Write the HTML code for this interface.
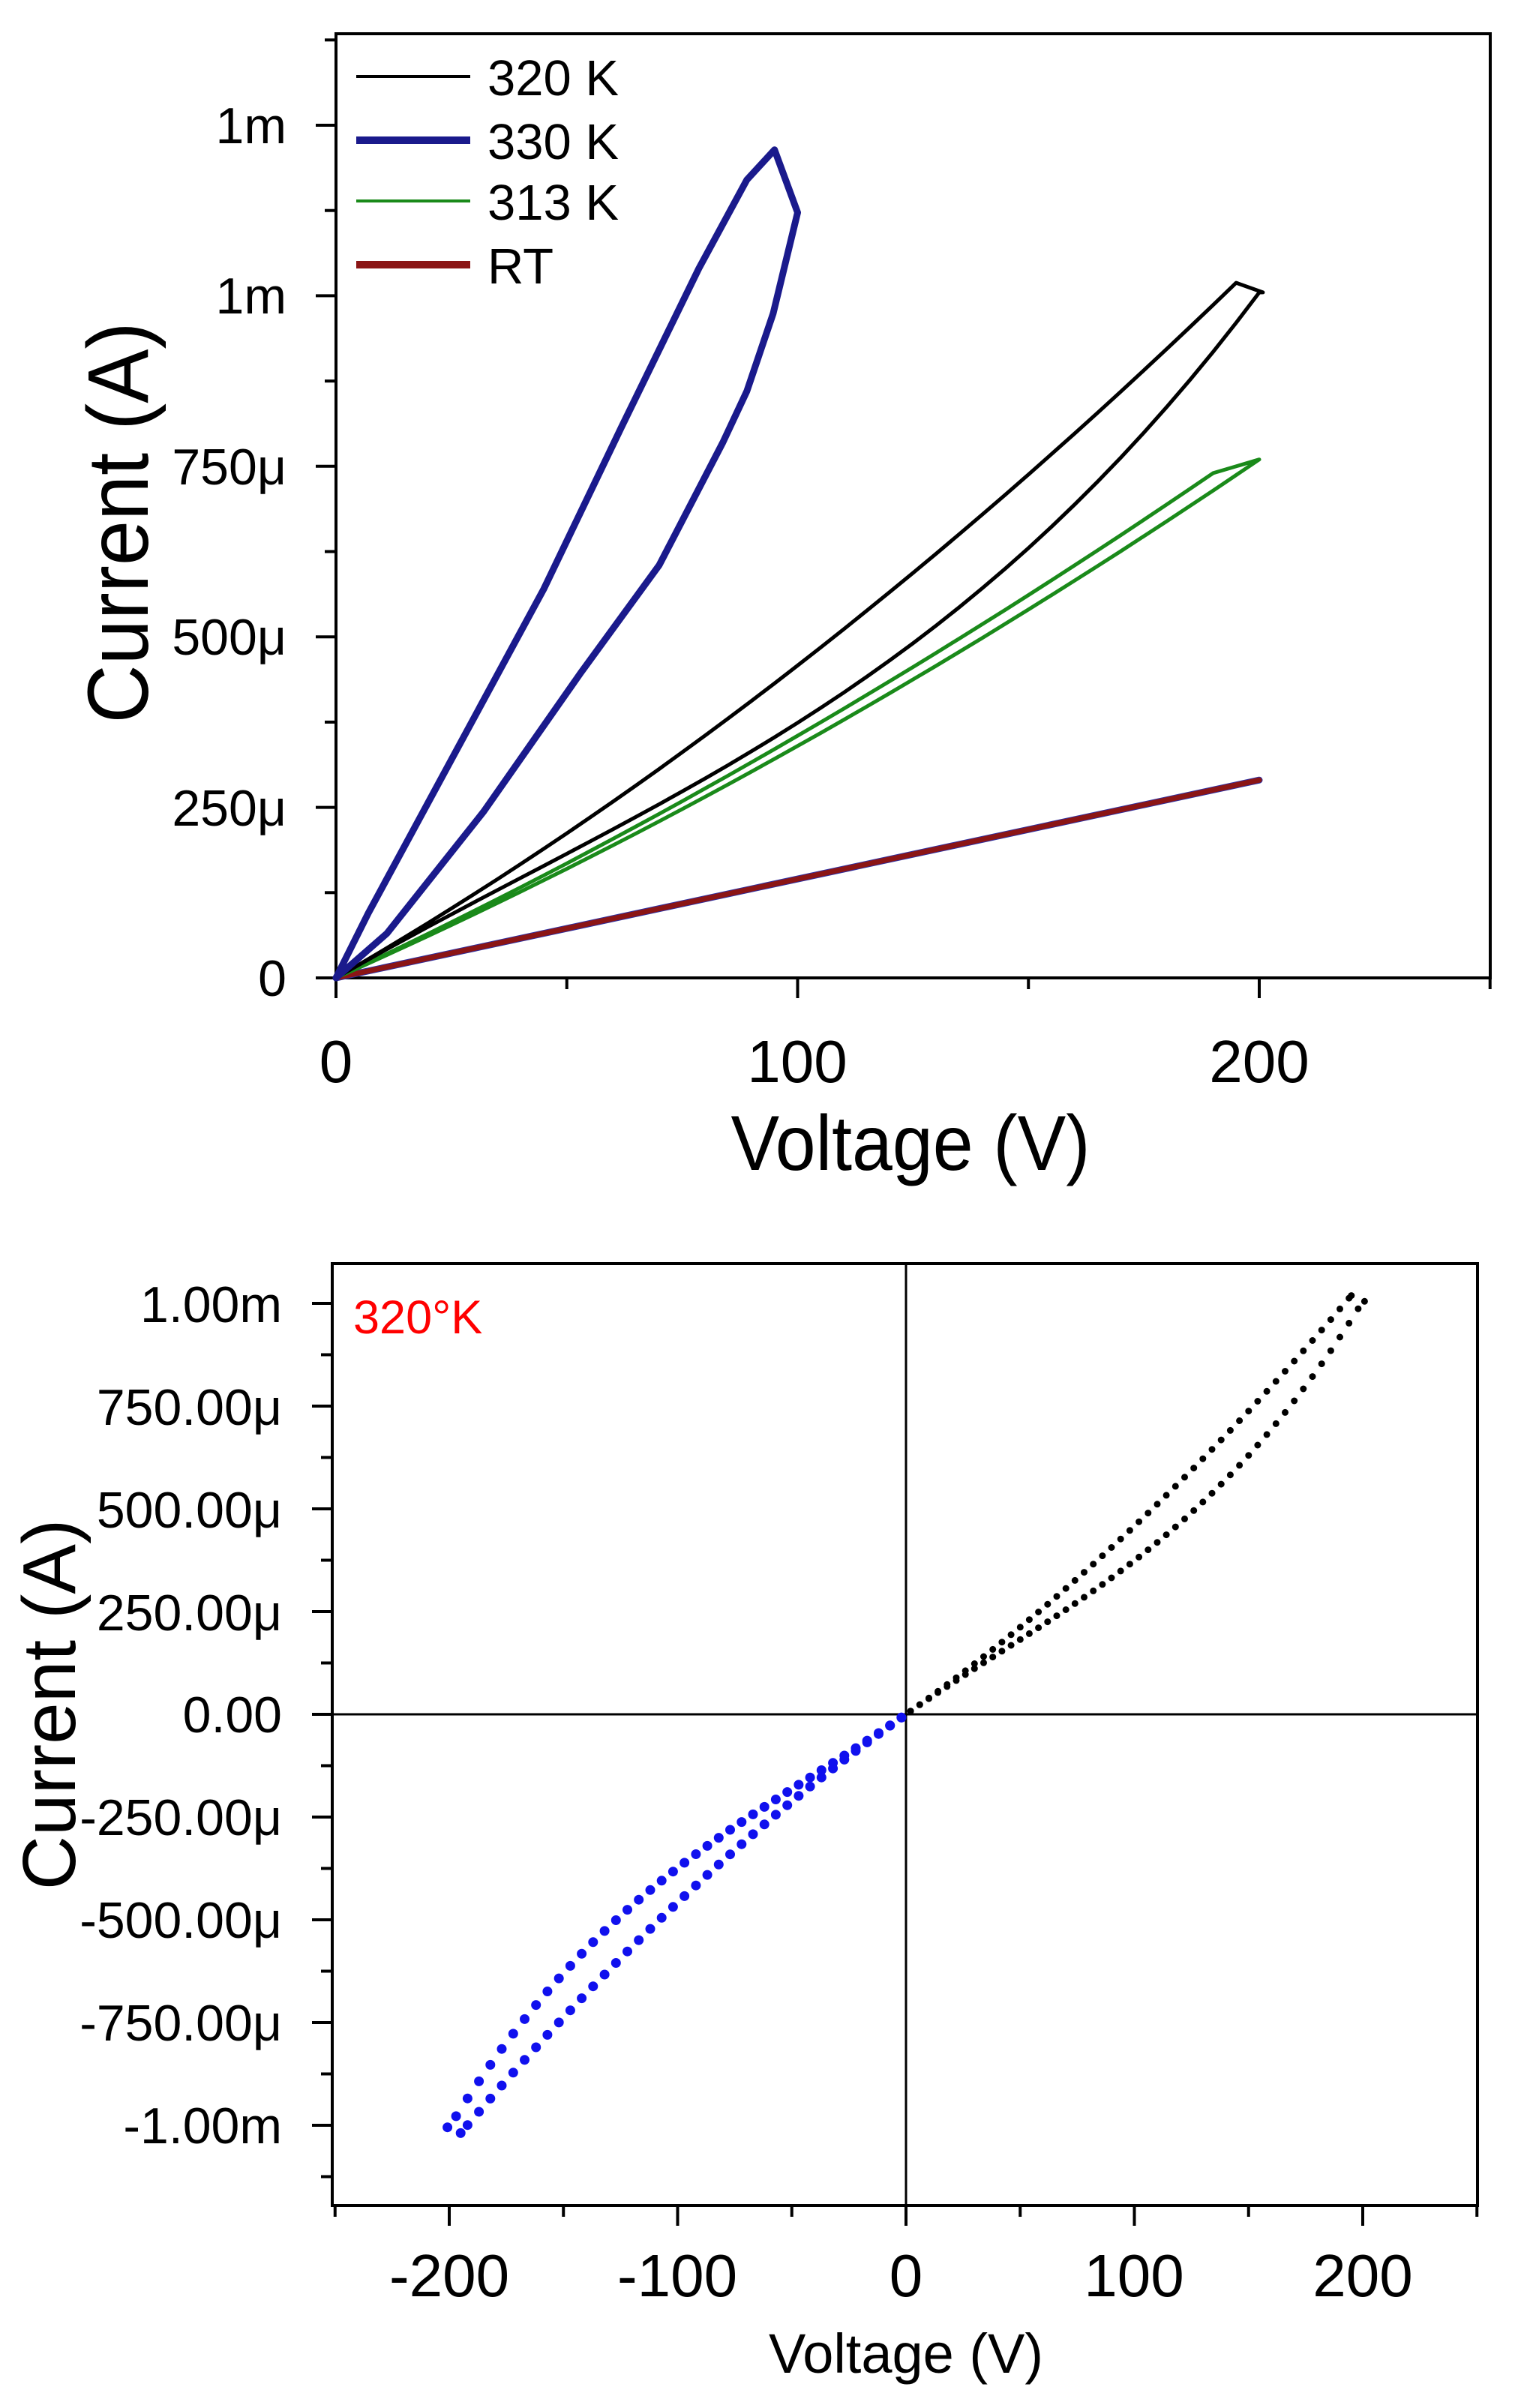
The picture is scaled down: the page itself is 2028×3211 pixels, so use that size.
<!DOCTYPE html>
<html><head><meta charset="utf-8"><style>
html,body{margin:0;padding:0;background:#fff;}
svg{display:block;}
text{font-family:"Liberation Sans",Arial,sans-serif;fill:#000;}
</style></head><body>
<svg id="s" width="2028" height="3211" viewBox="0 0 2028 3211" xmlns="http://www.w3.org/2000/svg">
<rect width="2028" height="3211" fill="#fff"/>
<g id="g"></g>
<g font-size="68" text-anchor="end">
<text x="382" y="1328">0</text>
<text x="382" y="1101">250μ</text>
<text x="382" y="873">500μ</text>
<text x="382" y="646">750μ</text>
<text x="382" y="418">1m</text>
<text x="382" y="191">1m</text>
</g>
<g font-size="80" text-anchor="middle">
<text x="448" y="1443">0</text>
<text x="1063" y="1443">100</text>
<text x="1679" y="1443">200</text>
</g>
<text x="1214" y="1560" font-size="104" text-anchor="middle" textLength="479" lengthAdjust="spacingAndGlyphs">Voltage (V)</text>
<text transform="translate(197,697) rotate(-90)" font-size="115" text-anchor="middle" textLength="535" lengthAdjust="spacingAndGlyphs">Current (A)</text>
<g font-size="67">
<text x="650" y="127">320 K</text>
<text x="650" y="212">330 K</text>
<text x="650" y="293">313 K</text>
<text x="650" y="378">RT</text>
</g>
<g font-size="68" text-anchor="end">
<text x="376" y="1763">1.00m</text>
<text x="376" y="1900">750.00μ</text>
<text x="376" y="2037">500.00μ</text>
<text x="376" y="2174">250.00μ</text>
<text x="376" y="2310">0.00</text>
<text x="376" y="2447">-250.00μ</text>
<text x="376" y="2584">-500.00μ</text>
<text x="376" y="2721">-750.00μ</text>
<text x="376" y="2858">-1.00m</text>
</g>
<g font-size="80" text-anchor="middle">
<text x="599" y="3062">-200</text>
<text x="903" y="3062">-100</text>
<text x="1208" y="3062">0</text>
<text x="1512" y="3062">100</text>
<text x="1817" y="3062">200</text>
</g>
<text x="1208" y="3164" font-size="74" text-anchor="middle">Voltage (V)</text>
<text transform="translate(100,2273) rotate(-90)" font-size="100" text-anchor="middle">Current (A)</text>
<text x="471" y="1778" font-size="63" style="fill:#ff0000">320°K</text>
</svg>
<script>
(function(){
var NS="http://www.w3.org/2000/svg",g=document.getElementById("g");
function el(t,a){var e=document.createElementNS(NS,t);for(var k in a)e.setAttribute(k,a[k]);g.appendChild(e);return e;}
function line(x1,y1,x2,y2,w,c){el("line",{x1:x1,y1:y1,x2:x2,y2:y2,stroke:c||"#000","stroke-width":w||4});}
var TX=function(v){return 448+v*6.155},TY=function(i){return 1304-i*0.9096};
el("rect",{x:448,y:45,width:1539,height:1259,fill:"none",stroke:"#000","stroke-width":4});
for(var i=0;i<=1375;i+=125){var y=TY(i);var maj=(i%250==0);line(maj?421:433,y,448,y,4);}
for(var v=0;v<=250;v+=50){var x=TX(v);var maj=(v%100==0);line(x,1304,x,maj?1331:1319,4);}
function poly(pts,c,w){el("polyline",{points:pts.map(function(p){return p[0].toFixed(1)+","+p[1].toFixed(1)}).join(" "),fill:"none",stroke:c,"stroke-width":w,"stroke-linejoin":"round","stroke-linecap":"round"});}
function curve(a,b,v0,v1,st,c){c=c||0;var r=[];for(var v=v0;(st>0?v<=v1+1e-6:v>=v1-1e-6);v+=st)r.push([v,a*v+b*v*v+c*v*v*v]);return r;}
function tp(arr){return arr.map(function(p){return [TX(p[0]),TY(p[1])]});}
poly(tp([[0,0],[200,290]]),"#3030a0",9);
poly(tp([[0,0],[200,290]]),"#8b1515",7);
var p=curve(3.167,0.00383,0,190,5);p.push([200,760]);p=p.concat(curve(3.0,0.004,200,0,-5));
poly(tp(p),"#1a8a1a",5);
var UA=3.9,UB=0.0068,LA=3.902,LB=-0.00885,LC=7.23e-5;
p=curve(UA,UB,0,195,5);p.push([200.8,1005]);p=p.concat(curve(LA,LB,200,0,-5,LC));
poly(tp(p),"#000",5);
p=[[0,0],[7,95],[21.8,280],[45,570],[61.8,807],[78.6,1040],[89,1170],[95,1214],[100,1122],[94.7,974],[89,860],[83.8,785],[70,605],[53,447],[32,244],[11,65],[0,0]];
poly(tp(p),"#1a1a8c",9);
line(475,102,627,102,4,"#000");
line(475,187,627,187,10,"#1a1a8c");
line(475,268,627,268,4,"#1a8a1a");
line(475,353,627,353,10,"#8b1515");
var BX=function(v){return 1208+v*3.045},BY=function(i){return 2286-i*0.548};
el("rect",{x:443,y:1685,width:1527,height:1256,fill:"none",stroke:"#000","stroke-width":4});
line(BX(0),1685,BX(0),2941,3);line(443,BY(0),1970,BY(0),3);
for(var i=-1125;i<=1000;i+=125){var y=BY(i);var maj=(i%250==0);line(maj?416:428,y,443,y,4);}
for(var v=-250;v<=250;v+=50){var x=BX(v);var maj=(v%100==0);line(x,2941,x,maj?2968:2956,4);}
function dots(pts,c,r){pts.forEach(function(q){el("circle",{cx:BX(q[0]).toFixed(1),cy:BY(q[1]).toFixed(1),r:r,fill:c});});}
var up=curve(UA,UB,2,195,4),lo=curve(LA,LB,2,200,4,LC);
up.push([195,1019]);lo.push([200.8,1005]);
dots(up,"#000",4.5);dots(lo,"#000",4.5);
var up2=curve(UA,UB,2,195,5),lo2=curve(LA,LB,2,200,5,LC);up2.push([195,1019]);lo2.push([200.8,1005]);
var nu=up2.map(function(q){return [-q[0],-q[1]]}),nl=lo2.map(function(q){return [-q[0],-q[1]]});
dots(nu,"#1010ee",6.5);dots(nl,"#1010ee",6.5);
})();
</script>
</body></html>
